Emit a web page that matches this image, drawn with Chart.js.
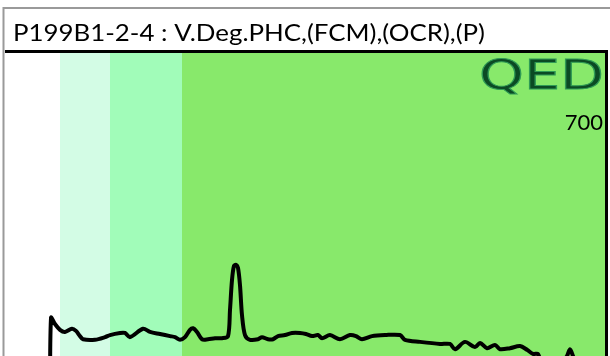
<!DOCTYPE html>
<html>
<head>
<meta charset="utf-8">
<script src="https://cdn.jsdelivr.net/npm/chart.js@4.4.1/dist/chart.umd.min.js"></script>
<style>
  html, body { margin: 0; padding: 0; background: #fff; overflow: hidden; }
  #wrap { width: 610px; height: 356px; overflow: hidden; }
</style>
</head>
<body>
<div id="wrap"><canvas id="trace" width="610" height="420"></canvas></div>
<script>
const titleText = "P199B1-2-4 : V.Deg.PHC,(FCM),(OCR),(P)";
const scaleLabel = "700";

// retention position (arbitrary units) and detector signal
const rt = [45, 46, 50, 55, 60, 67, 71, 75, 78, 90, 100, 105, 115, 120, 125, 138, 145, 155, 165, 170,
  175, 180, 185, 188, 192, 197, 203, 210, 217, 223, 225, 227, 229, 231, 233, 235, 237, 240, 245, 253,
  257, 263, 268, 273, 280, 287, 295, 301, 307, 313, 317, 325, 335, 345, 351, 357, 367, 380, 395, 400,
  415, 435, 445, 450, 460, 470, 475, 482, 490, 495, 505, 515, 522, 528, 533, 537, 545, 553, 557, 562,
  565, 568, 575, 600];
const signal = [0, 195, 183, 172, 168, 174, 170, 160, 154, 153, 158, 162, 166, 166, 158, 174, 168, 164, 160, 158,
  153, 158, 172, 175, 168, 154, 154, 156, 156, 160, 210, 267, 294, 296, 290, 257, 200, 162, 153, 154,
  158, 154, 154, 160, 162, 166, 166, 164, 160, 162, 156, 162, 154, 162, 160, 154, 160, 162, 162, 153,
  149, 145, 145, 135, 149, 139, 147, 137, 143, 135, 137, 141, 134, 126, 126, 105, 92, 114, 111, 122,
  135, 122, 86, 76];

// shaded zones along the run
const zoneStart = [0, 55, 105, 177];
const zoneEnd = [55, 105, 177, 600];
const zoneColor = ["#ffffff", "#d3fce5", "#a1fcb9", "#88e96b"];

const points = rt.map((x, i) => ({ x: x, y: signal[i] }));

const frame = {
  id: "frame",
  beforeDatasetsDraw(chart) {
    const { ctx, chartArea, scales } = chart;
    ctx.save();
    zoneStart.forEach((s, i) => {
      const x0 = scales.x.getPixelForValue(s);
      const x1 = scales.x.getPixelForValue(zoneEnd[i]);
      ctx.fillStyle = zoneColor[i];
      ctx.fillRect(x0, chartArea.top, x1 - x0, chartArea.bottom - chartArea.top);
    });
    // logo
    ctx.save();
    ctx.font = "41px 'DejaVu Sans'";
    const w = ctx.measureText("QED").width;
    ctx.translate(chartArea.right - 1, 89);
    ctx.scale(125 / w, 1.0);
    ctx.textAlign = "right";
    ctx.textBaseline = "alphabetic";
    ctx.fillStyle = "#0b4a24";
    ctx.fillText("QED", 0, 0);
    ctx.lineWidth = 1;
    ctx.strokeStyle = "#2f9a55";
    ctx.strokeText("QED", 0, 0);
    ctx.restore();
    ctx.fillStyle = "#000";
    ctx.font = "22px Lato";
    ctx.textAlign = "right";
    ctx.textBaseline = "alphabetic";
    ctx.fillText(scaleLabel, chartArea.right - 2, 130);
    ctx.restore();
  },
  afterDraw(chart) {
    const { ctx, chartArea } = chart;
    ctx.save();
    // outer grey frame
    ctx.strokeStyle = "#9a9a9a";
    ctx.lineWidth = 2;
    ctx.beginPath();
    ctx.moveTo(3.5, chart.height);
    ctx.lineTo(3.5, 8);
    ctx.lineTo(610, 8);
    ctx.stroke();
    // black plot border
    ctx.strokeStyle = "#000";
    ctx.lineWidth = 3;
    ctx.beginPath();
    ctx.moveTo(chartArea.left, 51.5);
    ctx.lineTo(chartArea.right + 1.5, 51.5);
    ctx.lineTo(chartArea.right + 1.5, chart.height);
    ctx.stroke();
    // title
    ctx.fillStyle = "#000";
    ctx.font = "24px Lato";
    ctx.textAlign = "left";
    ctx.textBaseline = "alphabetic";
    const tw = ctx.measureText(titleText).width;
    ctx.translate(13, 41);
    ctx.scale(472 / tw, 1);
    ctx.fillText(titleText, 0, 0);
    ctx.restore();
  }
};

new Chart(document.getElementById("trace"), {
  type: "line",
  data: {
    datasets: [{
      data: points,
      borderColor: "#000",
      borderWidth: 4,
      pointRadius: 0,
      tension: 0.3,
      fill: false
    }]
  },
  options: {
    responsive: false,
    animation: false,
    devicePixelRatio: 1,
    layout: { padding: { left: 5, right: 5, top: 53, bottom: 0 } },
    plugins: { legend: { display: false }, tooltip: { enabled: false }, title: { display: false } },
    scales: {
      x: { type: "linear", min: 0, max: 600, display: false },
      y: { min: 0, max: 700, display: false }
    }
  },
  plugins: [frame]
});
</script>
</body>
</html>
